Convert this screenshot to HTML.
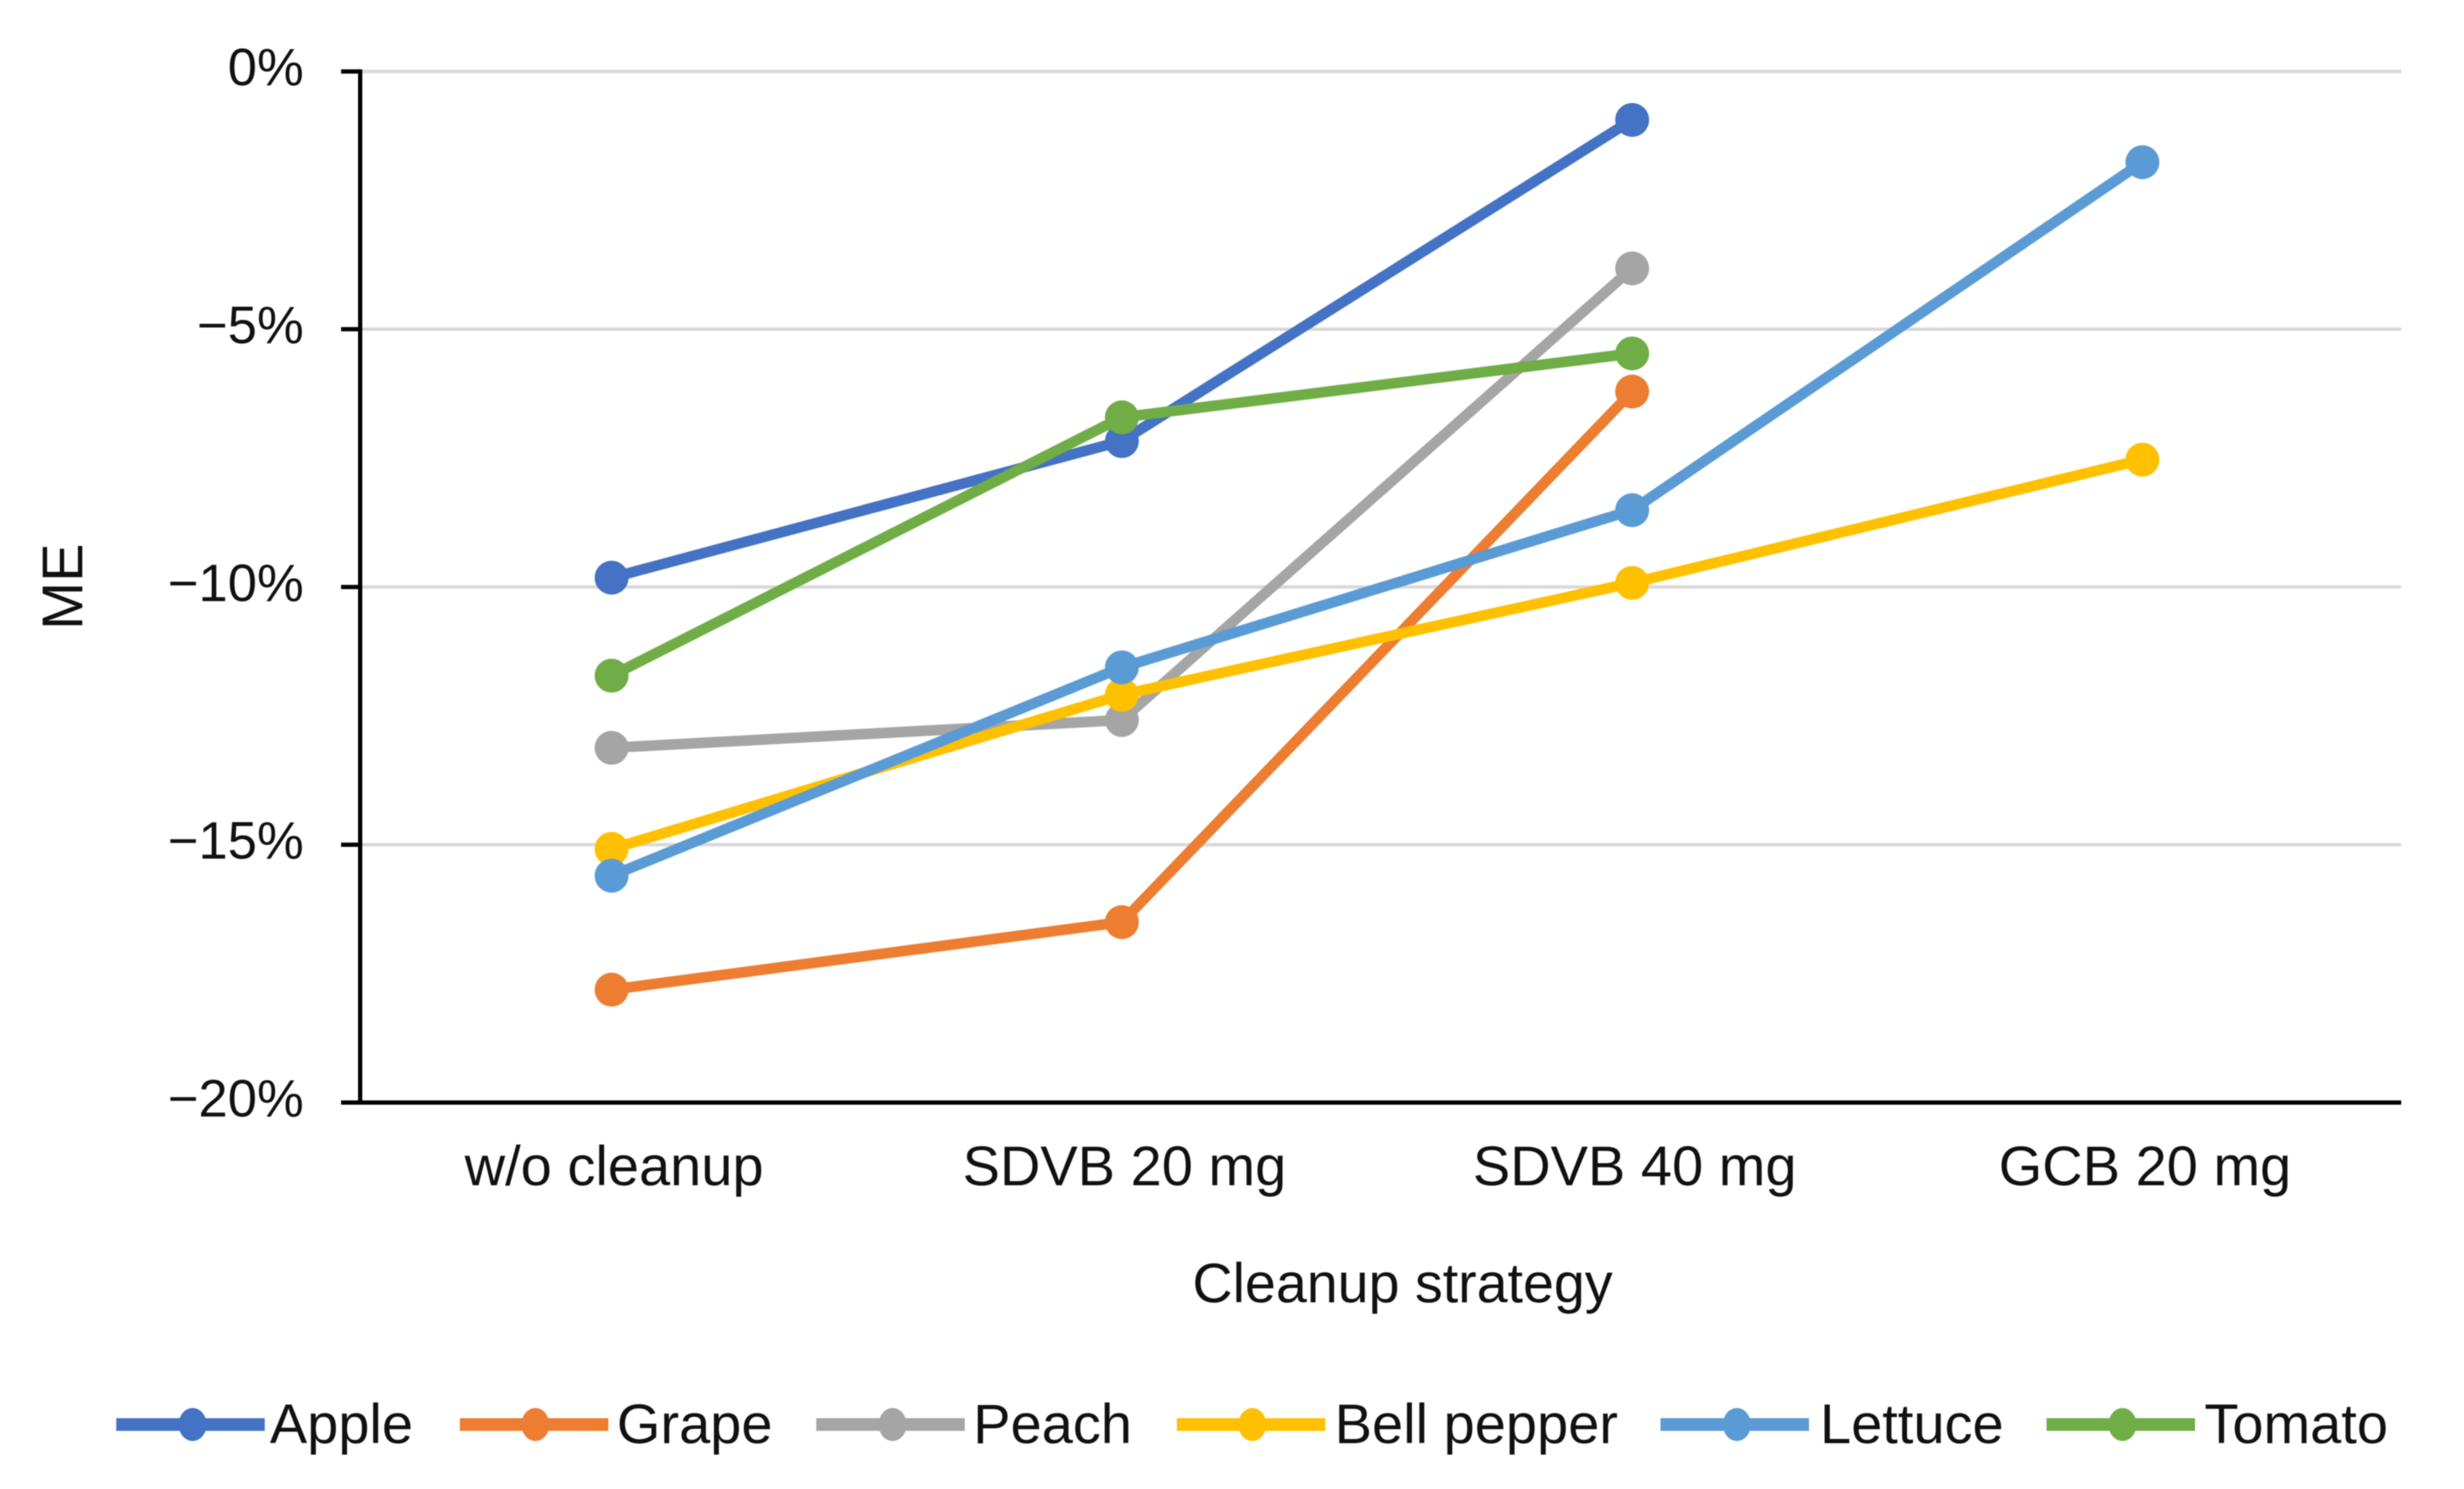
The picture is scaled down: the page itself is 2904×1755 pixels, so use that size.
<!DOCTYPE html>
<html lang="en">
<head>
<meta charset="utf-8">
<title>Matrix effect by cleanup strategy</title>
<style>
html,body{margin:0;padding:0;background:#fff;width:2904px;height:1755px;overflow:hidden}
svg{display:block;filter:blur(0.6px)}
text{font-family:"Liberation Sans",Arial,sans-serif;fill:#111}
</style>
</head>
<body>
<svg id="chart" xmlns="http://www.w3.org/2000/svg" width="2904" height="1755" viewBox="0 0 2904 1755">
  <rect x="0" y="0" width="2904" height="1755" fill="#fff"/>
  <g id="grid"></g>
  <g id="axes"></g>
  <g id="series"></g>
  <text font-size="68" text-anchor="middle" transform="translate(97 691.5) rotate(-90)">ME</text>
  <text font-size="65.5" text-anchor="middle" x="1653" y="1535">Cleanup strategy</text>
  <g>
    <g>
      <rect x="137" y="1671.5" width="175" height="15" fill="#4472c4"/>
      <ellipse cx="227" cy="1679" rx="16.5" ry="19.5" fill="#4472c4"/>
      <text font-size="66" x="318" y="1701">Apple</text>
    </g>
    <g>
      <rect x="542" y="1671.5" width="175" height="15" fill="#ed7d31"/>
      <ellipse cx="631" cy="1679" rx="16.5" ry="19.5" fill="#ed7d31"/>
      <text font-size="66" x="727" y="1701">Grape</text>
    </g>
    <g>
      <rect x="962" y="1671.5" width="175" height="15" fill="#a5a5a5"/>
      <ellipse cx="1052" cy="1679" rx="16.5" ry="19.5" fill="#a5a5a5"/>
      <text font-size="66" x="1147" y="1701">Peach</text>
    </g>
    <g>
      <rect x="1387" y="1671.5" width="175" height="15" fill="#ffc000"/>
      <ellipse cx="1476" cy="1679" rx="16.5" ry="19.5" fill="#ffc000"/>
      <text font-size="66" x="1573" y="1701">Bell pepper</text>
    </g>
    <g>
      <rect x="1957" y="1671.5" width="175" height="15" fill="#5b9bd5"/>
      <ellipse cx="2047" cy="1679" rx="16.5" ry="19.5" fill="#5b9bd5"/>
      <text font-size="66" x="2145" y="1701">Lettuce</text>
    </g>
    <g>
      <rect x="2412" y="1671.5" width="175" height="15" fill="#70ad47"/>
      <ellipse cx="2501.5" cy="1679" rx="16.5" ry="19.5" fill="#70ad47"/>
      <text font-size="66" x="2598" y="1701">Tomato</text>
    </g>
  </g>
</svg>
<script>
const categories = ["w/o cleanup", "SDVB 20 mg", "SDVB 40 mg", "GCB 20 mg"];
const yTicks = [0, -5, -10, -15, -20];
const yTickLabels = ["0%", "\u22125%", "\u221210%", "\u221215%", "\u221220%"];
const apple = [-9.82, -7.17, -0.94, null];
const grape = [-17.81, -16.5, -6.21, null];
const peach = [-13.12, -12.58, -3.82, null];
const bellPepper = [-15.08, -12.09, -9.92, -7.53];
const lettuce = [-15.6, -11.56, -8.51, -1.76];
const tomato = [-11.72, -6.71, -5.47, null];

const NS = "http://www.w3.org/2000/svg";
const plotLeft = 424.5, plotRight = 2830, plotTop = 84.2, plotBottom = 1299.5;
const bandOrigin = 420.1, bandStep = 601.4;
function xScale(i) { return bandOrigin + bandStep * (i + 0.5); }
function yScale(v) { return plotTop + (plotBottom - plotTop) * (-v / 20); }
function make(tag, attrs, parent) {
  const el = document.createElementNS(NS, tag);
  for (const k in attrs) el.setAttribute(k, attrs[k]);
  parent.appendChild(el);
  return el;
}
const gridG = document.getElementById("grid");
const axesG = document.getElementById("axes");
const seriesG = document.getElementById("series");

yTicks.forEach(function (t, i) {
  const y = yScale(t);
  if (t !== -20) {
    const g = make("line", { x1: plotLeft, x2: plotRight, y1: y, y2: y, stroke: "#d9d9d9", "stroke-width": 4 }, gridG);
    
    
  }
  const tick = make("line", { x1: 402, x2: plotLeft, y1: y, y2: y, stroke: "#000", "stroke-width": 5 }, axesG);
  
  
  const label = make("text", { x: 358, y: y + 16.5, "font-size": 62, "text-anchor": "end" }, axesG);
  
  
  label.textContent = yTickLabels[i];
});

const yAxis = make("line", { x1: plotLeft, x2: plotLeft, y1: plotTop - 2.5, y2: plotBottom + 2.5, stroke: "#000", "stroke-width": 5 }, axesG);


const xAxis = make("line", { x1: plotLeft, x2: plotRight, y1: plotBottom, y2: plotBottom, stroke: "#000", "stroke-width": 5 }, axesG);



categories.forEach(function (c, i) {
  const label = make("text", { x: xScale(i) + 3, y: 1397, "font-size": 66, "text-anchor": "middle" }, axesG);
  
  
  label.textContent = c;
});

function drawSeries(values, color) {
  const group = make("g", {}, seriesG);
  
  
  const pts = [];
  values.forEach(function (v, i) {
    if (v !== null) pts.push(xScale(i) + "," + yScale(v));
  });
  const line = make("polyline", { points: pts.join(" "), fill: "none", stroke: color, "stroke-width": 12.5, "stroke-linejoin": "round", "stroke-linecap": "round" }, group);
  
  
  values.forEach(function (v, i) {
    if (v === null) return;
    const dot = make("circle", { cx: xScale(i), cy: yScale(v), r: 20, fill: color }, group);
    
    
  });
}
drawSeries(apple, "#4472c4");
drawSeries(grape, "#ed7d31");
drawSeries(peach, "#a5a5a5");
drawSeries(bellPepper, "#ffc000");
drawSeries(lettuce, "#5b9bd5");
drawSeries(tomato, "#70ad47");
</script>
</body>
</html>
